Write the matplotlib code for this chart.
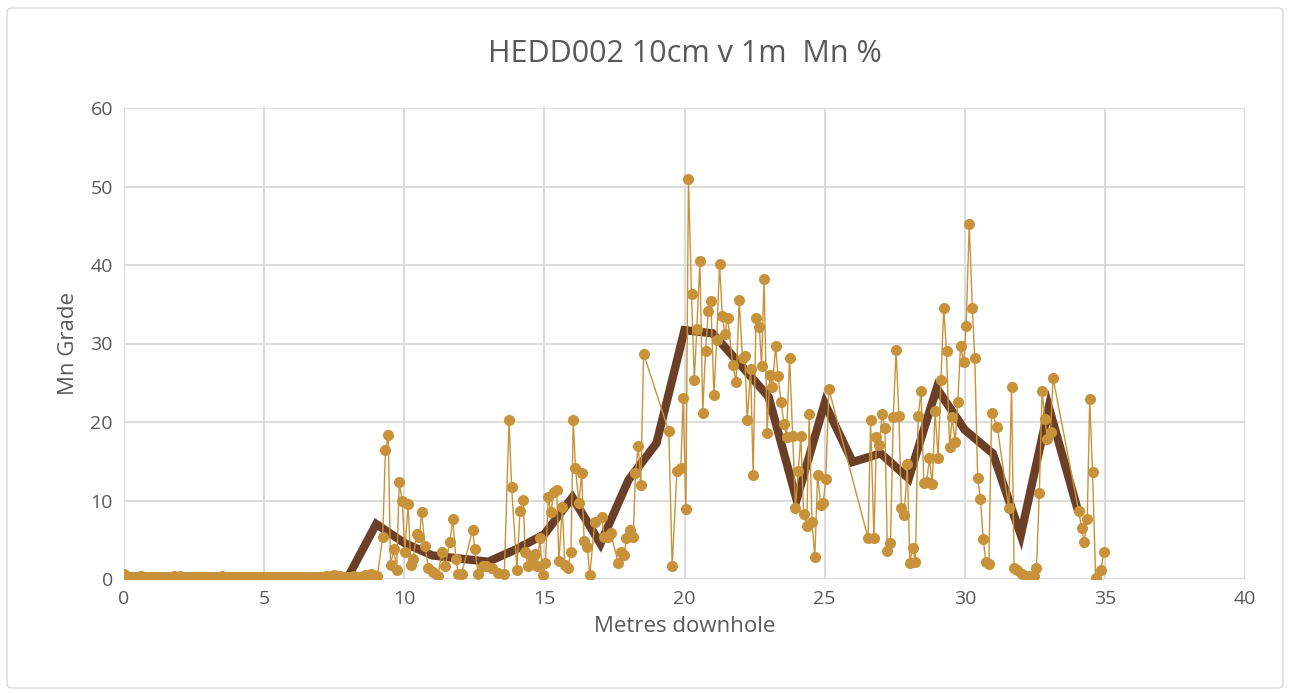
import matplotlib.pyplot as plt
from matplotlib.patches import FancyBboxPatch

# 10cm samples: depth (m) and Mn %
depth_10cm = [
    0.0, 0.1, 0.2, 0.3, 0.4, 0.5, 0.6, 0.7, 0.8, 0.9,
    1.0, 1.1, 1.2, 1.3, 1.4, 1.5, 1.6, 1.7, 1.8, 1.9,
    2.0, 2.1, 2.2, 2.3, 2.4, 2.5, 2.6, 2.7, 2.8, 2.9,
    3.0, 3.1, 3.2, 3.3, 3.4, 3.5, 3.6, 3.7, 3.8, 3.9,
    4.0, 4.1, 4.2, 4.3, 4.4, 4.5, 4.6, 4.7, 4.8, 4.9,
    5.0, 5.1, 5.2, 5.3, 5.4, 5.5, 5.6, 5.7, 5.8, 5.9,
    6.0, 6.1, 6.2, 6.3, 6.4, 6.5, 6.6, 6.7, 6.8, 6.9,
    7.0, 7.1, 7.2, 7.3, 7.4, 7.5, 7.6, 7.7, 7.8, 7.9,
    8.0, 8.1, 8.2, 8.3, 8.4, 8.5, 8.6, 8.7, 8.8, 8.9,
    9.04, 9.23, 9.33, 9.43, 9.51, 9.63, 9.73, 9.82, 9.93, 10.02,
    10.14, 10.23, 10.32, 10.44, 10.54, 10.62, 10.74, 10.86, 11.03, 11.21,
    11.33, 11.45, 11.63, 11.73, 11.84, 11.93, 12.05, 12.44, 12.52, 12.64,
    12.82, 12.92, 13.12, 13.35, 13.57, 13.74, 13.83, 14.02, 14.13, 14.25,
    14.31, 14.42, 14.55, 14.66, 14.75, 14.84, 14.94, 15.04, 15.14, 15.23,
    15.34, 15.44, 15.52, 15.64, 15.73, 15.83, 15.95, 16.03, 16.11, 16.23,
    16.33, 16.42, 16.53, 16.62, 16.80, 17.04, 17.14, 17.28, 17.37, 17.64,
    17.73, 17.85, 17.93, 18.05, 18.17, 18.25, 18.35, 18.44, 18.54, 19.44,
    19.56, 19.73, 19.87, 19.95, 20.05, 20.14, 20.25, 20.35, 20.44, 20.55,
    20.65, 20.75, 20.85, 20.94, 21.05, 21.15, 21.25, 21.35, 21.44, 21.54,
    21.72, 21.84, 21.95, 22.07, 22.15, 22.24, 22.36, 22.45, 22.55, 22.67,
    22.75, 22.84, 22.95, 23.05, 23.14, 23.25, 23.34, 23.44, 23.55, 23.64,
    23.75, 23.86, 23.96, 24.06, 24.15, 24.25, 24.36, 24.45, 24.55, 24.65,
    24.75, 24.86, 24.95, 25.04, 25.15, 26.55, 26.64, 26.76, 26.85, 26.95,
    27.05, 27.15, 27.24, 27.35, 27.45, 27.55, 27.65, 27.74, 27.84, 27.95,
    28.04, 28.14, 28.24, 28.34, 28.44, 28.54, 28.64, 28.74, 28.84, 28.94,
    29.05, 29.15, 29.25, 29.35, 29.46, 29.55, 29.66, 29.75, 29.85, 29.96,
    30.05, 30.16, 30.27, 30.36, 30.46, 30.56, 30.66, 30.75, 30.86, 30.96,
    31.16, 31.57, 31.67, 31.76, 31.87, 32.06, 32.18, 32.30, 32.46, 32.56,
    32.66, 32.76, 32.86, 32.95, 33.06, 33.15, 34.07, 34.17, 34.26, 34.37,
    34.46, 34.56, 34.67, 34.86, 34.96,
]
mn_10cm = [
    0.6, 0.3, 0.2, 0.3, 0.2, 0.3, 0.4, 0.3, 0.2, 0.3,
    0.2, 0.3, 0.2, 0.2, 0.3, 0.2, 0.3, 0.3, 0.4, 0.3,
    0.4, 0.3, 0.3, 0.2, 0.3, 0.2, 0.2, 0.3, 0.2, 0.3,
    0.2, 0.3, 0.2, 0.3, 0.3, 0.4, 0.3, 0.2, 0.3, 0.2,
    0.2, 0.3, 0.2, 0.3, 0.2, 0.2, 0.3, 0.2, 0.3, 0.2,
    0.3, 0.2, 0.2, 0.3, 0.2, 0.3, 0.2, 0.2, 0.1, 0.2,
    0.2, 0.1, 0.2, 0.2, 0.1, 0.1, 0.2, 0.1, 0.2, 0.2,
    0.2, 0.3, 0.4, 0.3, 0.4, 0.5, 0.3, 0.4, 0.3, 0.3,
    0.2, 0.3, 0.4, 0.3, 0.2, 0.3, 0.5, 0.4, 0.6, 0.5,
    0.4, 5.3, 16.4, 18.3, 1.8, 3.8, 1.1, 12.3, 9.9, 3.5,
    9.6, 1.8, 2.6, 5.7, 5.4, 8.5, 4.2, 1.4, 0.9, 0.4,
    3.4, 1.6, 4.7, 7.7, 2.6, 0.6, 0.7, 6.3, 3.8, 0.6,
    1.6, 1.6, 1.4, 0.8, 0.7, 20.2, 11.7, 1.2, 8.7, 10.1,
    3.4, 1.6, 2.8, 3.2, 1.7, 5.2, 0.5, 2.1, 10.4, 8.5,
    11.1, 11.4, 2.3, 9.2, 1.8, 1.4, 3.5, 20.2, 14.1, 9.7,
    13.5, 4.8, 4.1, 0.5, 7.3, 7.9, 5.4, 5.4, 5.8, 2.0,
    3.5, 3.1, 5.2, 6.2, 5.3, 13.5, 16.9, 12.0, 28.7, 18.8,
    1.6, 13.7, 14.1, 23.1, 8.9, 51.0, 36.3, 25.4, 31.9, 40.5,
    21.2, 29.1, 34.1, 35.4, 23.5, 30.5, 40.1, 33.5, 31.2, 33.3,
    27.3, 25.1, 35.5, 28.1, 28.4, 20.2, 26.8, 13.2, 33.3, 32.1,
    27.1, 38.2, 18.6, 26.0, 24.4, 29.7, 25.9, 22.6, 19.8, 18.1,
    28.2, 18.2, 9.1, 13.7, 18.2, 8.3, 6.7, 21.0, 7.2, 2.8,
    13.3, 9.4, 9.7, 12.7, 24.2, 5.2, 20.2, 5.2, 18.1, 17.1,
    21.0, 19.2, 3.6, 4.6, 20.6, 29.2, 20.8, 9.1, 8.1, 14.6,
    2.0, 4.0, 2.2, 20.8, 23.9, 12.2, 12.4, 15.4, 12.1, 21.4,
    15.4, 25.4, 34.5, 29.0, 16.8, 20.6, 17.4, 22.5, 29.7, 27.6,
    32.2, 45.2, 34.5, 28.1, 12.9, 10.2, 5.1, 2.2, 1.9, 21.2,
    19.4, 9.0, 24.4, 1.4, 1.1, 0.7, 0.3, 0.4, 0.4, 1.4,
    10.9, 23.9, 20.4, 17.8, 18.7, 25.6, 8.6, 6.5, 4.7, 7.6,
    22.9, 13.6, 0.1, 1.1, 3.4,
]

# 1m composites
depth_1m = [0, 1, 2, 3, 4, 5, 6, 7, 8, 9, 10, 11, 12, 13, 14, 15, 16, 17,
            18, 19, 20, 21, 22, 23, 24, 25, 26, 27, 28, 29, 30, 31, 32, 33, 34]
mn_1m = [0.3, 0.3, 0.3, 0.3, 0.3, 0.3, 0.3, 0.3, 0.3, 7.0, 4.6, 3.0, 2.6,
         2.2, 3.8, 5.7, 10.4, 4.5, 12.6, 17.3, 31.7, 31.3, 27.3, 23.2, 10.1,
         22.4, 14.9, 16.0, 12.8, 24.3, 19.0, 16.0, 5.6, 21.9, 9.2]

gold = '#C8923A'
brown = '#6B3F27'
txt = '#595959'
grid = '#D9D9D9'

plt.rcParams['font.family'] = ['Open Sans', 'DejaVu Sans']

fig = plt.figure(figsize=(12.89, 6.93), dpi=100)
ax = fig.add_axes([124 / 1289, 1 - 579 / 693, (1245 - 124) / 1289, (579 - 108) / 693])

ax.plot(depth_10cm, mn_10cm, color=gold, lw=1.0, marker='o', ms=8,
        markeredgewidth=0, zorder=3)
ax.plot(depth_1m, mn_1m, color=brown, lw=6, solid_joinstyle='miter', zorder=2)

ax.set_xlim(0, 40)
ax.set_ylim(0, 60)
ax.set_xticks(range(0, 41, 5))
ax.set_yticks(range(0, 61, 10))
ax.grid(True, color=grid, lw=1.3)
ax.set_axisbelow(True)
for s in ax.spines.values():
    s.set_visible(False)
ax.tick_params(length=0, labelsize=14, colors=txt, pad=8)

ax.set_title('HEDD002 10cm v 1m  Mn %', fontsize=22, color=txt, pad=33)
ax.set_xlabel('Metres downhole', fontsize=16, color=txt, labelpad=6)
ax.set_ylabel('Mn Grade', fontsize=16, color=txt, labelpad=8)

border = FancyBboxPatch((7 / 1289, 5 / 693), 1276 / 1289, 680 / 693,
                        boxstyle='round,pad=0,rounding_size=0.005',
                        transform=fig.transFigure, fill=False,
                        edgecolor=grid, lw=1)
fig.patches.append(border)

fig.savefig('out.png', dpi=100)
